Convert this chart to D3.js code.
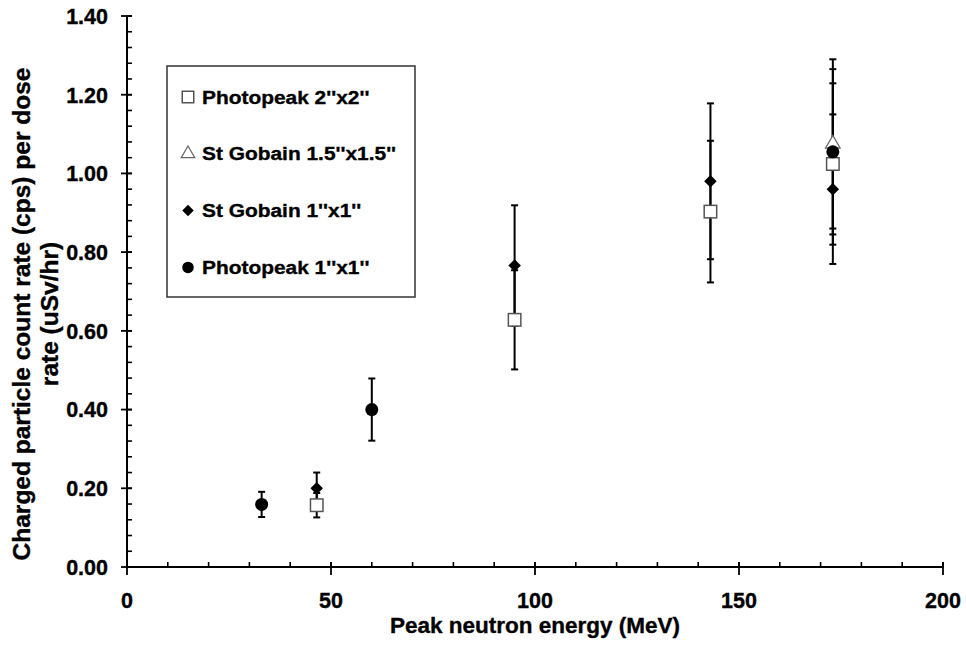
<!DOCTYPE html>
<html>
<head>
<meta charset="utf-8">
<script src="https://cdn.jsdelivr.net/npm/d3@7"></script>
<style>
  body { margin: 0; background: #fff; }
  text { font-family: "Liberation Sans", Arial, sans-serif; font-weight: bold; fill: #000; stroke: #000; stroke-width: 0.35px; }
</style>
</head>
<body>
<svg width="966" height="652"></svg>
<script>
// data
const seriesNames = ["Photopeak 2''x2''", "St Gobain 1.5''x1.5''", "St Gobain 1''x1''", "Photopeak 1''x1''"];
const seriesShapes = ['square', 'triangle', 'diamond', 'circle'];

const photo2Energy = [46.5, 95, 143, 173];
const photo2Rate = [0.157, 0.628, 0.903, 1.024];
const photo2Err = [0.031, 0.126, 0.180, 0.205];

const gobain15Energy = [173];
const gobain15Rate = [1.075];
const gobain15Err = [0.215];

const gobain1Energy = [46.5, 95, 143, 173];
const gobain1Rate = [0.200, 0.766, 0.980, 0.960];
const gobain1Err = [0.040, 0.153, 0.198, 0.190];

const photo1Energy = [33, 60, 173];
const photo1Rate = [0.159, 0.400, 1.055];
const photo1Err = [0.032, 0.079, 0.210];

const xTicks = [0, 50, 100, 150, 200];
const yTicks = [0, 0.2, 0.4, 0.6, 0.8, 1.0, 1.2, 1.4];

const series = [
  { x: photo2Energy, y: photo2Rate, e: photo2Err },
  { x: gobain15Energy, y: gobain15Rate, e: gobain15Err },
  { x: gobain1Energy, y: gobain1Rate, e: gobain1Err },
  { x: photo1Energy, y: photo1Rate, e: photo1Err }
];

const svg = d3.select('svg');
const plotLeft = 127, plotRight = 943, plotTop = 16, plotBottom = 567;

const x = d3.scaleLinear().domain([0, 200]).range([plotLeft, plotRight]);
const y = d3.scaleLinear().domain([0, 1.4]).range([plotBottom, plotTop]);

// minor ticks (inside)
const g = svg.append('g');
g.selectAll('line.xminor')
  .data(d3.range(0, 201, 10))
  .enter().append('line')
  .attr('x1', d => x(d)).attr('x2', d => x(d))
  .attr('y1', plotBottom).attr('y2', plotBottom - 5)
  .attr('stroke', '#000').attr('stroke-width', 1.6);
g.selectAll('line.yminor')
  .data(d3.range(0, 36).map(i => i * 0.04))
  .enter().append('line')
  .attr('y1', d => y(d)).attr('y2', d => y(d))
  .attr('x1', plotLeft).attr('x2', plotLeft + 5)
  .attr('stroke', '#000').attr('stroke-width', 1.6);

// major ticks (cross)
g.selectAll('line.xmajor')
  .data(xTicks)
  .enter().append('line')
  .attr('x1', d => x(d)).attr('x2', d => x(d))
  .attr('y1', plotBottom - 5).attr('y2', plotBottom + 8)
  .attr('stroke', '#000').attr('stroke-width', 1.8);
g.selectAll('line.ymajor')
  .data(yTicks)
  .enter().append('line')
  .attr('y1', d => y(d)).attr('y2', d => y(d))
  .attr('x1', plotLeft - 6).attr('x2', plotLeft + 5)
  .attr('stroke', '#000').attr('stroke-width', 1.8);

// axis lines
g.append('line').attr('x1', plotLeft).attr('x2', plotRight).attr('y1', plotBottom).attr('y2', plotBottom)
  .attr('stroke', '#000').attr('stroke-width', 2);
g.append('line').attr('x1', plotLeft).attr('x2', plotLeft).attr('y1', plotTop).attr('y2', plotBottom)
  .attr('stroke', '#000').attr('stroke-width', 2);

// tick labels
g.selectAll('text.xl')
  .data(xTicks)
  .enter().append('text')
  .attr('x', d => x(d)).attr('y', 608)
  .attr('text-anchor', 'middle')
  .style('font-size', '21.5px')
  .text(d => d);
g.selectAll('text.yl')
  .data(yTicks)
  .enter().append('text')
  .attr('x', 108).attr('y', d => y(d) + 7.8)
  .attr('text-anchor', 'end')
  .style('font-size', '21.5px')
  .text(d => d.toFixed(2));

// axis titles
svg.append('text')
  .attr('x', (plotLeft + plotRight) / 2).attr('y', 633)
  .attr('text-anchor', 'middle')
  .style('font-size', '22.5px')
  .text('Peak neutron energy (MeV)');
const yt = svg.append('text')
  .attr('transform', 'translate(0,314) rotate(-90)')
  .attr('text-anchor', 'middle')
  .style('font-size', '24.5px');
yt.append('tspan').attr('x', 0).attr('y', 30).text('Charged particle count rate (cps) per dose');
yt.append('tspan').attr('x', 0).attr('y', 58).text('rate (uSv/hr)');

// marker drawing
function marker(sel, shape, size) {
  if (shape === 'square') {
    sel.append('rect')
      .attr('x', -size / 2).attr('y', -size / 2)
      .attr('width', size).attr('height', size)
      .attr('fill', '#fff').attr('stroke', '#555').attr('stroke-width', 1.5);
  } else if (shape === 'triangle') {
    sel.append('path')
      .attr('d', d3.symbol(d3.symbolTriangle, size * size * 0.6)())
      .attr('fill', '#fff').attr('stroke', '#666').attr('stroke-width', 1.2);
  } else if (shape === 'diamond') {
    const r = size / 2;
    sel.append('path')
      .attr('d', `M0,${-r}L${r},0L0,${r}L${-r},0Z`)
      .attr('fill', '#000');
  } else {
    sel.append('circle').attr('r', size / 2).attr('fill', '#000');
  }
}

// error bars
const eb = svg.append('g');
series.forEach(s => {
  s.x.forEach((xv, i) => {
    const cx = x(xv);
    const y0 = y(s.y[i] - s.e[i]), y1 = y(s.y[i] + s.e[i]);
    eb.append('line').attr('x1', cx).attr('x2', cx).attr('y1', y0).attr('y2', y1)
      .attr('stroke', '#000').attr('stroke-width', 2);
    [y0, y1].forEach(cy => {
      eb.append('line').attr('x1', cx - 3.5).attr('x2', cx + 3.5).attr('y1', cy).attr('y2', cy)
        .attr('stroke', '#000').attr('stroke-width', 2);
    });
  });
});

// points
series.forEach((s, k) => {
  s.x.forEach((xv, i) => {
    const p = svg.append('g').attr('transform', `translate(${x(xv)},${y(s.y[i])})`);
    marker(p, seriesShapes[k], seriesShapes[k] === 'circle' ? 13 : 12.5);
  });
});

// legend
const lg = svg.append('g');
lg.append('rect')
  .attr('x', 167).attr('y', 66).attr('width', 248).attr('height', 231)
  .attr('fill', '#fff').attr('stroke', '#333').attr('stroke-width', 1.5);
seriesNames.forEach((name, k) => {
  const by = 103.5 + k * 56.8;
  const m = lg.append('g').attr('transform', `translate(188,${by - 6.5})`);
  marker(m, seriesShapes[k], 11.5);
  lg.append('text')
    .attr('transform', `translate(202,${by}) scale(1.1,1)`)
    .style('font-size', '19px')
    .text(name);
});
</script>
</body>
</html>
